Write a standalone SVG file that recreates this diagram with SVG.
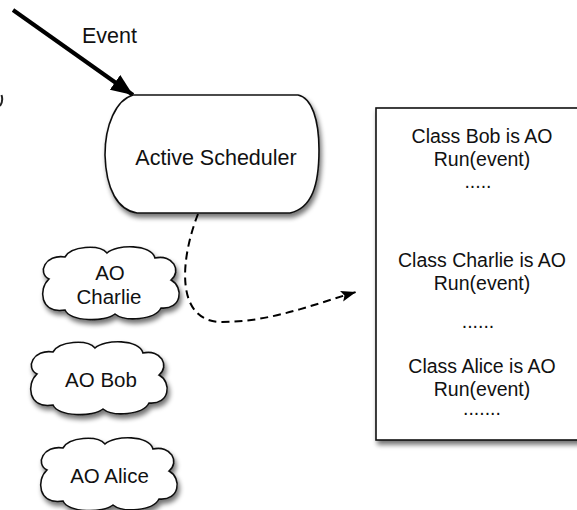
<svg xmlns="http://www.w3.org/2000/svg" width="577" height="510" viewBox="0 0 577 510">
  <style>
    text { font-family: "Liberation Sans", Arial, Helvetica, sans-serif; fill: #111; }
    .shape { fill: #fff; stroke: #111; stroke-width: 1.6; }
    .t22 { font-size: 21.5px; }
    .t20 { font-size: 20.5px; text-anchor: middle; }
    .t19 { font-size: 19.5px; text-anchor: middle; }
  </style>
  <defs>
    <filter id="sh" x="-20%" y="-20%" width="150%" height="150%">
      <feGaussianBlur in="SourceAlpha" stdDeviation="2.5"/>
      <feOffset dx="2" dy="4" result="b"/>
      <feComponentTransfer><feFuncA type="linear" slope="0.55"/></feComponentTransfer>
      <feMerge><feMergeNode/><feMergeNode in="SourceGraphic"/></feMerge>
    </filter>
    <path id="cloud" d="M -62,-4 C -74,-10 -66,-29 -46,-26 C -40,-37 -12,-39 -4,-30 C 6,-39 40,-39 44,-25 C 62,-29 71,-12 60,-3 C 73,4 71,27 50,25 C 44,37 14,39 4,31 C -6,39 -40,39 -46,27 C -71,31 -73,6 -62,-4 Z"/>
    <marker id="arrowBig" markerUnits="userSpaceOnUse" markerWidth="24" markerHeight="20" refX="22" refY="9" orient="auto">
      <path d="M0,0 L22,9 L0,18 Z" fill="#000"/>
    </marker>
    <marker id="arrowSmall" markerUnits="userSpaceOnUse" markerWidth="16" markerHeight="12" refX="15" refY="5.5" orient="auto">
      <path d="M0,0 L15,5.5 L0,11 L3,5.5 Z" fill="#000"/>
    </marker>
  </defs>

  <rect width="577" height="510" fill="#fff"/>

  <!-- clipped fragment at left edge -->
  <path d="M1.5,95 Q3.5,101 0,106" fill="none" stroke="#222" stroke-width="2"/>

  <g id="connectors">
    <line x1="13" y1="10" x2="133" y2="95" stroke="#000" stroke-width="4" marker-end="url(#arrowBig)"/>
    <path d="M198,214 C180,260 175,322 222,322 C270,322 312,305 356,292" fill="none" stroke="#000" stroke-width="2" stroke-dasharray="8,5" marker-end="url(#arrowSmall)"/>
  </g>

  <g id="event-label">
    <text class="t22" x="82" y="43">Event</text>
  </g>

  <g id="active-scheduler">
    <path class="shape" filter="url(#sh)" d="M133,95 H298 C312,98 319,120 319,150 C319,185 312,208 290,213 H137 C118,210 106,190 105,155 C105,125 116,100 133,95 Z"/>
    <text class="t22" x="216" y="165" text-anchor="middle">Active Scheduler</text>
  </g>

  <g id="ao-charlie">
    <use href="#cloud" class="shape" filter="url(#sh)" transform="translate(111,283)"/>
    <text class="t20" x="110" y="280">AO</text>
    <text class="t20" x="109" y="304">Charlie</text>
  </g>

  <g id="ao-bob">
    <use href="#cloud" class="shape" filter="url(#sh)" transform="translate(99,378)"/>
    <text class="t20" x="101" y="387">AO Bob</text>
  </g>

  <g id="ao-alice">
    <use href="#cloud" class="shape" filter="url(#sh)" transform="translate(109,474)"/>
    <text class="t20" x="109.5" y="483">AO Alice</text>
  </g>

  <g id="class-box">
    <rect class="shape" filter="url(#sh)" x="376" y="108" width="220" height="332"/>
    <text class="t19" x="482" y="143">Class Bob is AO</text>
    <text class="t19" x="482" y="166">Run(event)</text>
    <text class="t19" x="478" y="188">.....</text>
    <text class="t19" x="482" y="267">Class Charlie is AO</text>
    <text class="t19" x="482" y="290">Run(event)</text>
    <text class="t19" x="478" y="328">......</text>
    <text class="t19" x="482" y="373">Class Alice is AO</text>
    <text class="t19" x="482" y="396">Run(event)</text>
    <text class="t19" x="482" y="415">.......</text>
  </g>
</svg>
